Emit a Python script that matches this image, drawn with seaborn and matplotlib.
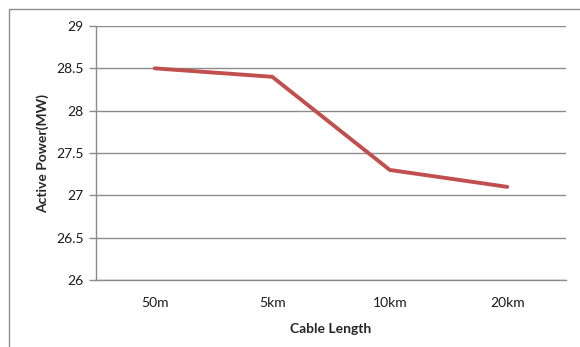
import matplotlib
matplotlib.use("Agg")
import matplotlib.pyplot as plt
from matplotlib.patches import Rectangle
import seaborn as sns
import pandas as pd

categories = ["50m", "5km", "10km", "20km"]
active_power = [28.5, 28.4, 27.3, 27.1]
y_ticks = [26, 26.5, 27, 27.5, 28, 28.5, 29]

sns.set_style("white")
plt.rcParams["font.family"] = ["Lato", "DejaVu Sans"]

df = pd.DataFrame({"Cable Length": categories, "Active Power(MW)": active_power})
df["pos"] = range(len(categories))

fig = plt.figure(figsize=(5.8, 3.47), dpi=100)
W, H = 580, 347
ax = fig.add_axes([96 / W, 1 - 280 / H, (566 - 96) / W, (280 - 26) / H])

sns.lineplot(data=df, x="pos", y="Active Power(MW)", ax=ax,
             color="#C0504D", linewidth=2.8, sort=False)

ax.set_xlim(-0.5, len(categories) - 0.5)
ax.set_ylim(26, 29)
ax.set_xticks(df["pos"])
ax.set_xticklabels(categories)
ax.set_yticks(y_ticks)
ax.set_yticklabels([f"{t:g}" for t in y_ticks])

ax.yaxis.grid(True, color="#8C8C8C", linewidth=1.0)
ax.set_axisbelow(True)
for side in ["top", "right"]:
    ax.spines[side].set_visible(False)
for side in ["left", "bottom"]:
    ax.spines[side].set_color("#8C8C8C")
    ax.spines[side].set_linewidth(1.0)

ax.tick_params(axis="y", left=True, length=5, width=1.0, color="#8C8C8C",
               labelsize=10, labelcolor="#1a1a1a", pad=4)
ax.tick_params(axis="x", bottom=False, labelsize=10, labelcolor="#1a1a1a", pad=9)

ax.set_xlabel("Cable Length", fontsize=10, fontweight="bold", labelpad=10)
ax.set_ylabel("Active Power(MW)", fontsize=10, fontweight="bold", labelpad=5)

# outer chart frame
fig.patches.append(Rectangle((9 / W, -0.1), 1.2, (1 - 9 / H) + 0.1,
                             transform=fig.transFigure, fill=False,
                             edgecolor="#8C8C8C", linewidth=1.0))

fig.savefig("out.png", dpi=100)
